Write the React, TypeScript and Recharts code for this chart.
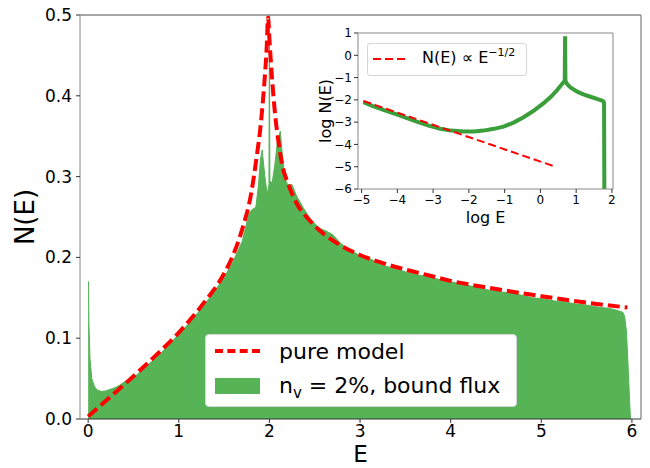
import { ComposedChart, LineChart, Area, Line, XAxis, YAxis, Legend, ReferenceLine } from 'recharts';

// main panel: density of states N(E)
const greenE = [
  0, 0.004, 0.008, 0.02, 0.04, 0.07, 0.1, 0.15, 0.2, 0.25,
  0.3, 0.35, 0.4, 0.45, 0.5, 0.6, 0.7, 0.8, 0.9, 1.0,
  1.1, 1.2, 1.3, 1.4, 1.5, 1.6, 1.7, 1.75, 1.78, 1.82,
  1.85, 1.88, 1.9, 1.92, 1.95, 1.975, 1.995, 2.0, 2.005, 2.03,
  2.06, 2.09, 2.12, 2.14, 2.17, 2.2, 2.25, 2.3, 2.37, 2.45,
  2.55, 2.62, 2.7, 2.78, 2.85, 3.0, 3.1, 3.25, 3.4, 3.5,
  3.65, 3.75, 3.9, 4.0, 4.15, 4.25, 4.4, 4.5, 4.65, 4.75,
  4.9, 5.0, 5.15, 5.25, 5.4, 5.5, 5.65, 5.75, 5.85, 5.9,
  5.92, 5.94, 5.96, 5.975, 5.985,
];
const greenN = [
  0.17, 0.17, 0.12, 0.075, 0.05, 0.04, 0.036, 0.034, 0.035, 0.037,
  0.039, 0.042, 0.046, 0.047, 0.051, 0.061, 0.071, 0.081, 0.093, 0.105,
  0.117, 0.13, 0.144, 0.159, 0.175, 0.195, 0.22, 0.243, 0.256, 0.26,
  0.262, 0.29, 0.32, 0.333, 0.3, 0.278, 0.29, 0.5, 0.295, 0.292,
  0.315, 0.345, 0.356, 0.33, 0.298, 0.29, 0.29, 0.276, 0.262, 0.248,
  0.236, 0.233, 0.228, 0.218, 0.212, 0.202, 0.199, 0.19, 0.186, 0.182,
  0.178, 0.176, 0.172, 0.17, 0.166, 0.164, 0.16, 0.158, 0.156, 0.154,
  0.15, 0.149, 0.146, 0.145, 0.142, 0.141, 0.138, 0.137, 0.134, 0.132,
  0.127, 0.108, 0.06, 0.02, 0,
];
const pureE = [
  0, 0.25, 0.5, 0.75, 1.0, 1.25, 1.5, 1.6, 1.7, 1.8,
  1.86, 1.9, 1.94, 1.97, 1.985, 2.0, 2.03, 2.06, 2.1, 2.15,
  2.2, 2.3, 2.45, 2.6, 2.8, 3.0, 3.25, 3.5, 3.75, 4.0,
  4.5, 5.0, 5.5, 5.95,
];
const pureN = [
  0.003, 0.028, 0.053, 0.079, 0.107, 0.14, 0.18, 0.203, 0.235, 0.28,
  0.325, 0.36, 0.41, 0.46, 0.497, 0.47, 0.42, 0.38, 0.343, 0.31,
  0.293, 0.267, 0.245, 0.229, 0.214, 0.203, 0.193, 0.185, 0.178, 0.171,
  0.161, 0.152, 0.144, 0.138,
];
const xTicks = [0, 1, 2, 3, 4, 5, 6];
const yTicks = [0, 0.1, 0.2, 0.3, 0.4, 0.5];

// inset: log-log
const logE = [
  -4.95, -4.7, -4.39, -4.0, -3.46, -3.1, -2.8, -2.5, -2.15, -1.85,
  -1.59, -1.3, -1.03, -0.75, -0.47, -0.2, 0.09, 0.3, 0.47, 0.6,
  0.68, 0.69, 0.7, 0.75, 0.85, 1.03, 1.2, 1.4, 1.6, 1.72,
  1.77, 1.78, 1.79,
];
const logN = [
  -2.1, -2.27, -2.45, -2.66, -2.98, -3.17, -3.3, -3.38, -3.42, -3.42,
  -3.38, -3.3, -3.2, -3.02, -2.78, -2.5, -2.15, -1.85, -1.56, -1.3,
  -1.15, 0.85, -1.15, -1.3, -1.45, -1.63, -1.75, -1.86, -1.97, -2.03,
  -2.08, -2.2, -7,
];
const fitLogE = [-4.95, 0.42];
const fitLogN = [-2.05, -5.0];
const insetXTicks = [-5, -4, -3, -2, -1, 0, 1, 2];
const insetYTicks = [-6, -5, -4, -3, -2, -1, 0, 1];

const greenData = greenE.map((e, i) => ({ e, n: greenN[i] }));
const pureData = pureE.map((e, i) => ({ e, n: pureN[i] }));
const logData = logE.map((x, i) => ({ x, y: logN[i] }));
const fitData = fitLogE.map((x, i) => ({ x, y: fitLogN[i] }));

const FONT = "'DejaVu Sans', sans-serif";
const GREEN = '#56b356';
const SPINE = '#888';
const minus = (v: number) => String(v).replace('-', '\u2212');

function MainLegend() {
  return (
    <div style={{
      width: 312, height: 73, boxSizing: 'border-box', background: '#fff',
      border: '1px solid #d6d6d6', borderRadius: 4, fontFamily: FONT, fontSize: 22, color: '#000',
    }}>
      <div style={{ position: 'absolute', left: 10, top: 15, width: 45, borderTop: '4px dashed red' }} />
      <div style={{ position: 'absolute', left: 74, top: 4, lineHeight: '28px' }}>pure model</div>
      <div style={{ position: 'absolute', left: 10, top: 44, width: 45, height: 16, background: GREEN }} />
      <div style={{ position: 'absolute', left: 74, top: 38, lineHeight: '28px', whiteSpace: 'nowrap' }}>
        n<span style={{ fontSize: 15, position: 'relative', top: 5 }}>v</span> = 2%, bound flux
      </div>
    </div>
  );
}

function InsetLegend() {
  return (
    <div style={{
      width: 160, height: 33, boxSizing: 'border-box', background: '#fff',
      border: '1px solid #d6d6d6', borderRadius: 3, fontFamily: FONT, fontSize: 16, color: '#000',
    }}>
      <svg style={{ position: 'absolute', left: 6, top: 14 }} width={36} height={4}>
        <line x1={0} y1={2} x2={36} y2={2} stroke="red" strokeWidth={2} strokeDasharray="8 4" />
      </svg>
      <div style={{ position: 'absolute', left: 55, top: 4, whiteSpace: 'nowrap', lineHeight: '22px' }}>
        N(E) ∝ E<span style={{ fontSize: 11, position: 'relative', top: -7 }}>{'\u22121/2'}</span>
      </div>
    </div>
  );
}

export default function App() {
  const tickStyle = { fontSize: 17, fill: '#000', fontFamily: FONT };
  const insetTick = { fontSize: 12, fill: '#000', fontFamily: FONT };
  return (
    <div style={{ position: 'absolute', left: 0, top: 0, width: 650, height: 468, background: '#fff', fontFamily: FONT }}>
      <ComposedChart width={650} height={468} margin={{ top: 15, right: 9, bottom: 0, left: 0 }}>
        <XAxis
          dataKey="e" type="number" domain={[-0.09, 6.1]} ticks={xTicks} allowDataOverflow
          height={49} tick={tickStyle} tickSize={4} tickMargin={2}
          axisLine={{ stroke: '#333' }} tickLine={{ stroke: '#333' }}
          label={{ value: 'E', position: 'center', dy: 10, fontSize: 23, fill: '#000', fontFamily: FONT }}
        />
        <YAxis
          type="number" domain={[0, 0.5]} ticks={yTicks} allowDataOverflow width={80}
          tick={tickStyle} tickSize={4} tickMargin={4} tickFormatter={(v: number) => v.toFixed(1)}
          axisLine={{ stroke: SPINE }} tickLine={{ stroke: '#333' }}
          label={{ value: 'N(E)', angle: -90, position: 'center', dx: -15, fontSize: 26, fill: '#000', fontFamily: FONT }}
        />
        <Area data={greenData} dataKey="n" type="linear" fill={GREEN} fillOpacity={1}
          stroke={GREEN} strokeWidth={1} baseValue={0} isAnimationActive={false} />
        <Line data={pureData} dataKey="n" type="monotone" stroke="#ff0000" strokeWidth={4}
          strokeDasharray="12 5" dot={false} isAnimationActive={false} />
        <ReferenceLine y={0.5} stroke={SPINE} strokeWidth={1.3} />
        <ReferenceLine x={6.1} stroke={SPINE} strokeWidth={1.3} />
        <Legend layout="vertical" align="center" verticalAlign="middle"
          wrapperStyle={{ position: 'absolute', left: 205, top: 334, width: 312, height: 73 }}
          content={() => <MainLegend />} />
      </ComposedChart>

      <div style={{ position: 'absolute', left: 300, top: 20 }}>
        <LineChart width={322} height={210} margin={{ top: 13, right: 9, bottom: 0, left: 0 }}>
          <XAxis
            dataKey="x" type="number" domain={[-5.1, 2.03]} ticks={insetXTicks} allowDataOverflow
            height={41} tick={insetTick} tickSize={4} tickMargin={2} tickFormatter={minus}
            axisLine={{ stroke: SPINE }} tickLine={{ stroke: '#333' }}
            label={{ value: 'log E', position: 'center', dy: 8, fontSize: 16, fill: '#000', fontFamily: FONT }}
          />
          <YAxis
            type="number" domain={[-6, 1]} ticks={insetYTicks} allowDataOverflow width={58}
            tick={insetTick} tickSize={4} tickMargin={2} tickFormatter={minus}
            axisLine={{ stroke: SPINE }} tickLine={{ stroke: '#333' }}
            label={{ value: 'log N(E)', angle: -90, position: 'center', dx: -4, fontSize: 16, fill: '#000', fontFamily: FONT }}
          />
          <Line data={logData} dataKey="y" type="linear" stroke="#3a9e3a" strokeWidth={4}
            dot={false} isAnimationActive={false} />
          <Line data={fitData} dataKey="y" type="linear" stroke="#ff0000" strokeWidth={2}
            strokeDasharray="8 4" dot={false} isAnimationActive={false} />
          <ReferenceLine y={1} stroke={SPINE} />
          <ReferenceLine x={2.03} stroke={SPINE} />
          <Legend layout="vertical" align="center" verticalAlign="middle"
            wrapperStyle={{ position: 'absolute', left: 67, top: 23, width: 160, height: 33 }}
            content={() => <InsetLegend />} />
        </LineChart>
      </div>
    </div>
  );
}
